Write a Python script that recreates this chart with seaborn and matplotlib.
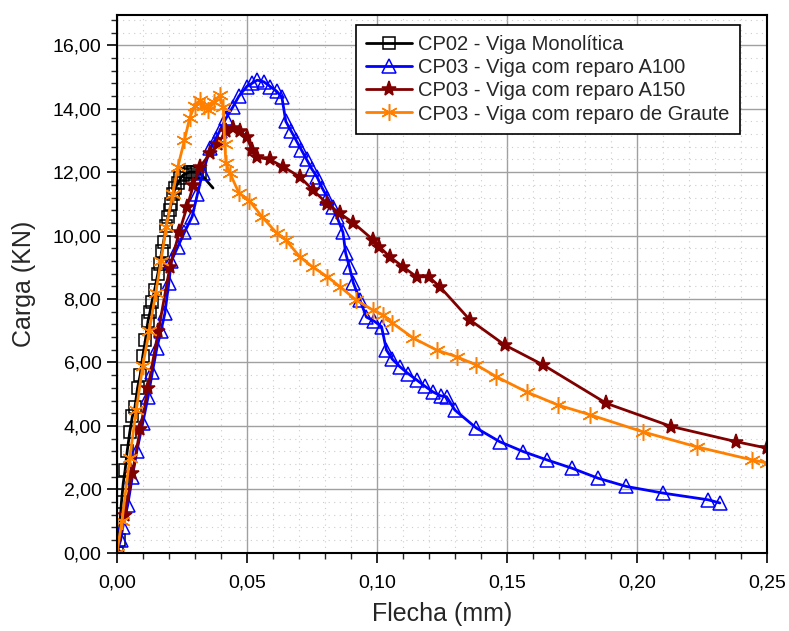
import matplotlib
matplotlib.use("Agg")
import matplotlib.pyplot as plt
import matplotlib.ticker as mtick
import seaborn as sns
import pandas as pd

# Data: Flecha (mm) x Carga (KN)
cp02_x = [0.0, 0.0008, 0.0018, 0.0025, 0.0032, 0.004, 0.005, 0.006, 0.007, 0.008,
          0.009, 0.010, 0.011, 0.012, 0.0128, 0.0135, 0.0146, 0.0158, 0.0165, 0.0173,
          0.018, 0.019, 0.0197, 0.0204, 0.021, 0.0216, 0.0225, 0.0235, 0.0245, 0.0254,
          0.0265, 0.028, 0.0295, 0.0307, 0.032, 0.037]
cp02_y = [0.0, 0.4, 1.6, 2.2, 2.6, 3.2, 3.8, 4.3, 4.6, 5.2,
          5.6, 6.2, 6.7, 7.3, 7.6, 7.9, 8.3, 8.8, 9.1, 9.5,
          9.8, 10.3, 10.6, 10.8, 11.0, 11.3, 11.5, 11.65, 11.8, 11.9,
          11.95, 12.0, 12.0, 12.0, 11.97, 11.5]

a100_x = [0.0, 0.0015, 0.0023, 0.0042, 0.006, 0.0077, 0.010, 0.012, 0.0137, 0.0154,
          0.017, 0.0185, 0.020, 0.021, 0.0235, 0.026, 0.029, 0.031, 0.033, 0.036,
          0.038, 0.0396, 0.042, 0.0446, 0.047, 0.05, 0.052, 0.054, 0.0565, 0.059,
          0.0615, 0.0635, 0.065, 0.067, 0.069, 0.071, 0.073, 0.075, 0.077, 0.079,
          0.081, 0.083, 0.0846, 0.087, 0.088, 0.0895, 0.091, 0.0935, 0.096, 0.099,
          0.1018, 0.1037, 0.106, 0.1088, 0.112, 0.1153, 0.1185, 0.1216, 0.1245, 0.1268,
          0.13, 0.1383, 0.1473, 0.1563, 0.1653, 0.1749, 0.1851, 0.196, 0.2101, 0.2274,
          0.2319]
a100_y = [0.0, 0.4, 0.8, 1.5, 2.4, 3.2, 4.1, 4.9, 5.7, 6.45,
          7.0, 7.55, 8.5, 9.2, 9.65, 10.1, 10.6, 11.3, 11.97, 12.75,
          13.05, 13.3, 13.7, 14.05, 14.4, 14.7, 14.8, 14.9, 14.85, 14.7,
          14.55, 14.36, 13.6, 13.3, 13.0, 12.7, 12.4, 12.1, 11.85, 11.5,
          11.2, 10.9, 10.6, 10.1, 9.45, 9.0, 8.5, 7.97, 7.43, 7.3,
          7.13, 6.39, 6.1, 5.87, 5.65, 5.45, 5.25, 5.07, 4.95, 4.92,
          4.5, 3.93, 3.5, 3.19, 2.93, 2.67, 2.35, 2.09, 1.88, 1.67,
          1.57]

a150_x = [0.0, 0.003, 0.006, 0.009, 0.012, 0.016, 0.0204, 0.024, 0.027, 0.0295,
          0.032, 0.036, 0.039, 0.042, 0.0446, 0.0475, 0.05, 0.052, 0.054, 0.0588,
          0.064, 0.0704, 0.0755, 0.081, 0.0858, 0.091, 0.0985, 0.101, 0.105, 0.11,
          0.1153, 0.12, 0.1242, 0.1358, 0.1492, 0.164, 0.1883, 0.2133, 0.2383, 0.25]
a150_y = [0.0, 1.2, 2.5, 3.9, 5.2, 7.0, 9.0, 10.1, 10.9, 11.6,
          12.17, 12.6, 12.9, 13.3, 13.4, 13.3, 13.1, 12.7, 12.47, 12.4,
          12.17, 11.85, 11.43, 11.0, 10.7, 10.4, 9.87, 9.65, 9.33, 9.02,
          8.7, 8.7, 8.39, 7.34, 6.55, 5.92, 4.71, 3.98, 3.5, 3.3]

graute_x = [0.0, 0.002, 0.005, 0.0075, 0.01, 0.0125, 0.015, 0.017, 0.019, 0.0215,
            0.0235, 0.026, 0.028, 0.030, 0.032, 0.0335, 0.035, 0.0375, 0.0396, 0.041,
            0.0415, 0.042, 0.0435, 0.047, 0.051, 0.056, 0.0615, 0.065, 0.0704, 0.0755,
            0.081, 0.0858, 0.092, 0.0985, 0.1024, 0.106, 0.114, 0.123, 0.1307, 0.1383,
            0.146, 0.1576, 0.1696, 0.182, 0.2024, 0.223, 0.2442, 0.25]
graute_y = [0.0, 1.0, 3.0, 4.5, 5.9, 7.0, 8.2, 9.2, 10.27, 11.3,
            12.17, 13.0, 13.7, 14.1, 14.27, 14.1, 13.95, 14.2, 14.43, 14.05,
            12.9, 12.28, 11.97, 11.34, 11.1, 10.58, 10.08, 9.86, 9.33, 9.0,
            8.7, 8.39, 7.97, 7.65, 7.5, 7.24, 6.77, 6.39, 6.18, 5.92,
            5.55, 5.07, 4.66, 4.35, 3.81, 3.34, 2.93, 2.83]

# label, x, y, colour, marker, face colour, marker size
series = [
    ("CP02 - Viga Monolítica", cp02_x, cp02_y, "black", "s", "none", 9),
    ("CP03 - Viga com reparo A100", a100_x, a100_y, "#0000ff", "^", "none", 10),
    ("CP03 - Viga com reparo A150", a150_x, a150_y, "#800000", "*", "#800000", 11),
    ("CP03 - Viga com reparo de Graute", graute_x, graute_y, "#ff8000", (6, 2, 0), "#ff8000", 12),
]

sns.set_theme(style="white")
plt.rcParams['font.family'] = ['Liberation Sans', 'DejaVu Sans']

fig = plt.figure(figsize=(7.89, 6.31), dpi=100)
ax = fig.add_axes([0.148, 0.124, 0.824, 0.852])

for label, xs, ys, color, marker, face, msize in series:
    df = pd.DataFrame({"x": xs, "y": ys})
    # the monolithic beam ends with a bare segment (no marker on the last point)
    every = list(range(len(xs) - 1)) if color == "black" else None
    sns.lineplot(data=df, x="x", y="y", sort=False, ax=ax, color=color,
                 linewidth=2.0, marker=marker, markersize=msize, markevery=every,
                 markerfacecolor=face, markeredgecolor=color, markeredgewidth=1.1,
                 label=label)

ax.set_xlim(0, 0.25)
ax.set_ylim(0, 16.95)
ax.xaxis.set_major_locator(mtick.MultipleLocator(0.05))
ax.xaxis.set_minor_locator(mtick.MultipleLocator(0.01))
ax.yaxis.set_major_locator(mtick.MultipleLocator(2))
ax.yaxis.set_minor_locator(mtick.MultipleLocator(0.4))
comma = mtick.FuncFormatter(lambda v, p: f"{v:.2f}".replace(".", ","))
ax.xaxis.set_major_formatter(comma)
ax.yaxis.set_major_formatter(comma)

ax.grid(which="major", color="#a0a0a0", linewidth=1.0, linestyle="-")
ax.grid(which="minor", color="#cccccc", linewidth=0.8, linestyle=(0, (1, 4)))
ax.set_axisbelow(True)

ax.tick_params(which="major", direction="out", length=7, width=1.2, labelsize=14,
               left=True, bottom=True, colors="black")
ax.tick_params(axis="x", which="major", pad=9)
ax.tick_params(axis="y", which="major", pad=4)
ax.tick_params(which="minor", direction="out", length=4, width=1.0,
               left=True, bottom=True)
for s in ax.spines.values():
    s.set_color("black")
    s.set_linewidth(1.5)

ax.set_xlabel("Flecha (mm)", fontsize=18, labelpad=7)
ax.set_ylabel("Carga (KN)", fontsize=18, labelpad=12)

leg = ax.legend(loc="upper right", bbox_to_anchor=(0.958, 0.981), fontsize=14.5,
                frameon=True, fancybox=False, framealpha=1, edgecolor="black",
                handlelength=2.3, handletextpad=0.3, labelspacing=0.2,
                borderpad=0.5, borderaxespad=0)
leg.get_frame().set_linewidth(1.2)

plt.savefig("out.png", dpi=100)
